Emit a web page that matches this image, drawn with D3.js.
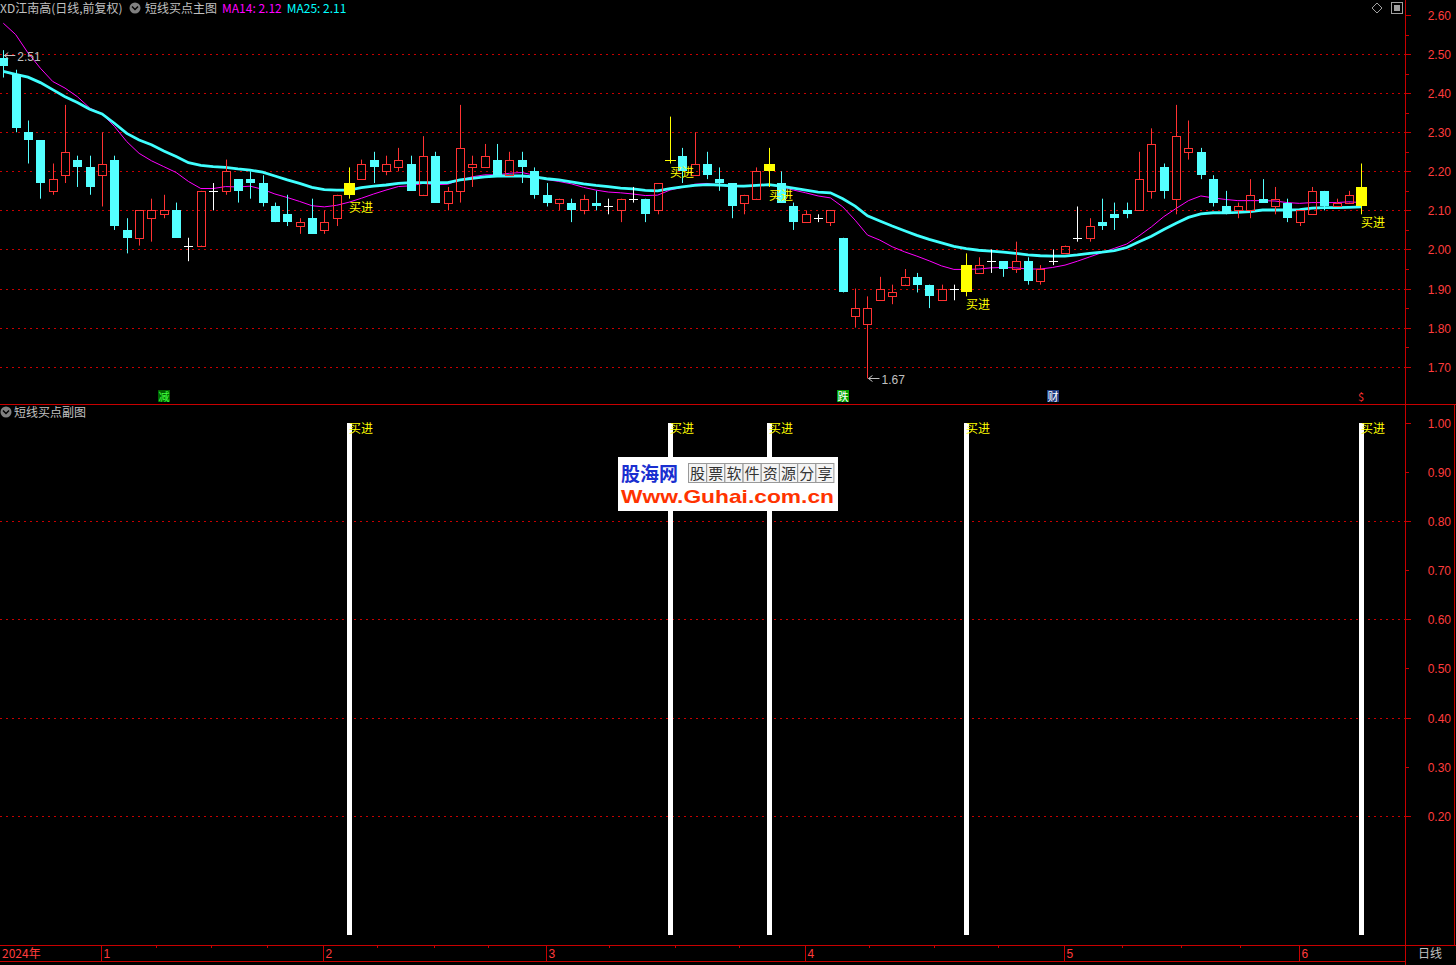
<!DOCTYPE html>
<html><head><meta charset="utf-8">
<script src="https://cdn.jsdelivr.net/npm/d3@7"></script>
<style>
html,body{margin:0;padding:0;background:#000;overflow:hidden}
svg{display:block}
text{font-family:"Liberation Sans",Arial,"Noto Sans CJK SC",sans-serif;}
.cjk{font-family:"Noto Sans CJK SC","Liberation Sans",sans-serif;}
</style></head><body>
<svg id="c" width="1456" height="965"></svg>
<script>
// ---------------- data ----------------
const openP  = [2.49,2.45,2.30,2.28,2.15,2.19,2.23,2.21,2.19,2.23,2.05,2.03,2.08,2.09,2.10,2.01,2.01,2.15,2.15,2.18,
                2.18,2.17,2.11,2.09,2.06,2.08,2.05,2.08,2.14,2.18,2.23,2.20,2.21,2.22,2.14,2.24,2.12,2.15,2.21,2.21,
                2.23,2.19,2.23,2.20,2.14,2.12,2.12,2.10,2.12,2.11,2.10,2.13,2.13,2.10,2.23,2.24,2.19,2.22,2.18,2.17,
                2.12,2.13,2.20,2.17,2.11,2.07,2.08,2.07,2.03,1.83,1.81,1.87,1.88,1.91,1.93,1.91,1.87,1.90,1.89,1.94,
                1.97,1.97,1.95,1.97,1.92,1.97,1.99,2.03,2.03,2.07,2.09,2.10,2.10,2.15,2.21,2.13,2.25,2.25,2.18,2.11,
                2.10,2.10,2.13,2.11,2.12,2.07,2.09,2.15,2.11,2.12,2.11];
const highP  = [2.51,2.46,2.33,2.28,2.22,2.37,2.24,2.24,2.30,2.24,2.08,2.10,2.13,2.14,2.12,2.03,2.15,2.17,2.23,2.18,
                2.20,2.19,2.12,2.14,2.08,2.13,2.10,2.14,2.21,2.23,2.25,2.24,2.26,2.24,2.29,2.25,2.16,2.37,2.24,2.27,
                2.27,2.25,2.25,2.21,2.17,2.13,2.13,2.14,2.15,2.13,2.13,2.16,2.13,2.17,2.34,2.26,2.30,2.25,2.21,2.17,
                2.14,2.21,2.26,2.20,2.12,2.10,2.09,2.10,2.03,1.90,1.88,1.93,1.91,1.95,1.94,1.91,1.91,1.91,1.99,1.98,
                2.00,1.97,2.02,1.98,1.96,2.00,2.01,2.11,2.08,2.13,2.12,2.12,2.25,2.31,2.22,2.37,2.33,2.26,2.19,2.15,
                2.12,2.18,2.18,2.16,2.13,2.10,2.16,2.15,2.13,2.15,2.22];
const lowP   = [2.44,2.30,2.22,2.13,2.14,2.17,2.16,2.14,2.11,2.05,1.99,2.01,2.02,2.08,2.03,1.97,2.01,2.10,2.14,2.12,
                2.13,2.11,2.07,2.06,2.04,2.04,2.04,2.06,2.13,2.18,2.17,2.19,2.20,2.15,2.14,2.12,2.10,2.12,2.16,2.21,
                2.19,2.19,2.17,2.13,2.11,2.10,2.07,2.09,2.10,2.09,2.07,2.12,2.07,2.09,2.22,2.17,2.19,2.18,2.15,2.08,
                2.09,2.13,2.16,2.12,2.05,2.07,2.07,2.06,1.89,1.80,1.67,1.87,1.86,1.91,1.89,1.85,1.87,1.87,1.88,1.94,
                1.94,1.93,1.94,1.91,1.91,1.96,1.99,2.02,2.02,2.05,2.05,2.08,2.10,2.13,2.13,2.09,2.23,2.18,2.11,2.09,
                2.08,2.08,2.12,2.09,2.07,2.06,2.09,2.10,2.11,2.12,2.09];
const closeP = [2.47,2.31,2.28,2.17,2.18,2.25,2.21,2.16,2.22,2.06,2.03,2.10,2.10,2.10,2.03,2.01,2.15,2.15,2.20,2.15,
                2.17,2.12,2.07,2.07,2.07,2.04,2.07,2.14,2.17,2.22,2.21,2.22,2.23,2.15,2.24,2.12,2.15,2.26,2.22,2.24,
                2.19,2.23,2.21,2.14,2.12,2.13,2.10,2.13,2.11,2.11,2.13,2.13,2.09,2.17,2.23,2.20,2.22,2.19,2.17,2.11,
                2.14,2.20,2.22,2.12,2.07,2.09,2.08,2.10,1.89,1.85,1.85,1.90,1.89,1.93,1.91,1.88,1.90,1.90,1.96,1.96,
                1.97,1.95,1.97,1.92,1.95,1.97,2.01,2.03,2.06,2.06,2.08,2.09,2.18,2.27,2.15,2.29,2.26,2.19,2.12,2.09,
                2.11,2.14,2.12,2.13,2.08,2.10,2.15,2.11,2.12,2.14,2.16];
const ma14 = [2.579,2.550,2.503,2.464,2.430,2.413,2.391,2.362,2.347,2.315,2.276,2.246,2.227,2.212,2.197,2.174,2.156,2.156,2.161,2.160,
              2.162,2.154,2.142,2.133,2.123,2.112,2.109,2.113,2.121,2.131,2.142,2.152,2.161,2.163,2.169,2.166,2.167,2.178,2.186,2.191,
              2.191,2.195,2.197,2.190,2.179,2.174,2.168,2.159,2.152,2.147,2.145,2.142,2.138,2.139,2.152,2.159,2.167,2.169,2.165,2.161,
              2.161,2.164,2.165,2.161,2.152,2.145,2.137,2.132,2.109,2.075,2.037,2.024,2.007,1.994,1.983,1.971,1.958,1.949,1.949,1.950,
              1.953,1.954,1.953,1.950,1.950,1.954,1.960,1.970,1.981,1.992,2.003,2.014,2.035,2.058,2.084,2.105,2.125,2.137,2.132,2.128,
              2.125,2.125,2.125,2.124,2.120,2.118,2.120,2.120,2.120,2.122,2.120];
const ma25 = [2.456,2.448,2.441,2.427,2.409,2.391,2.376,2.359,2.347,2.323,2.297,2.280,2.268,2.252,2.238,2.222,2.215,2.212,2.210,2.206,
              2.203,2.198,2.188,2.178,2.169,2.159,2.153,2.152,2.152,2.158,2.162,2.165,2.169,2.171,2.171,2.171,2.171,2.178,2.182,2.186,
              2.188,2.188,2.188,2.186,2.181,2.178,2.173,2.168,2.164,2.161,2.157,2.155,2.151,2.150,2.156,2.160,2.164,2.166,2.165,2.163,
              2.162,2.164,2.166,2.162,2.157,2.152,2.147,2.145,2.130,2.111,2.086,2.073,2.060,2.048,2.036,2.026,2.017,2.008,2.002,1.998,
              1.996,1.993,1.990,1.986,1.984,1.983,1.983,1.986,1.990,1.993,1.997,2.005,2.020,2.034,2.051,2.067,2.082,2.091,2.094,2.094,
              2.095,2.097,2.101,2.101,2.101,2.102,2.106,2.107,2.107,2.108,2.109];
const buySignals = [28, 54, 62, 78, 110];
const buyValue = 1;
const priceTicks = [2.60,2.50,2.40,2.30,2.20,2.10,2.00,1.90,1.80,1.70];
const priceGrid = [2.50,2.40,2.30,2.20,2.10,2.00,1.90,1.80,1.70];
const subTicks = [1.00,0.90,0.80,0.70,0.60,0.50,0.40,0.30,0.20];
const subGrid = [0.80,0.60,0.40,0.20];
const monthIdx = [8,26,44,65,86,105];
const monthLabels = ["1","2","3","4","5","6"];
const weekTickIdx = [12.4,16.8,21.4,30.3,34.9,39.3,49.1,54.4,59.6,70.1,75.4,80.6,90.6,95.4,100.2];
const yearLabel = "2024年";
const highMark = {idx:0, value:2.51};
const lowMark = {idx:70, value:1.67};
const eventMarks = [{idx:13, t:"减", bg:"#006400", fg:"#40ff40"},{idx:68, t:"跌", bg:"#00a000", fg:"#ffffff"},
                    {idx:85, t:"财", bg:"#203c80", fg:"#ffffff"},{idx:110, t:"$", bg:"#000000", fg:"#ff3030"}];

// ---------------- drawing ----------------
const svg = d3.select("#c");
const RED="#ff3232", CYAN="#54ffff", AXR="#c80000", LBL="#ff3c3c", GRAY="#c0c0c0";
const plotR = 1405;
const x = d3.scaleLinear().domain([0,110]).range([3.3,1361.3]);
const yP = d3.scaleLinear().domain([1.6046,2.6384]).range([404,0]);
const yS = d3.scaleLinear().domain([-0.043,1.0367]).range([935,405]);
const px = v => Math.round(v)+0.5;

svg.append("rect").attr("width",1456).attr("height",965).attr("fill","#000");

// grid
const g = svg.append("g");
g.selectAll(".gp").data(priceGrid).enter().append("line")
  .attr("x1",0).attr("x2",plotR).attr("y1",d=>px(yP(d))).attr("y2",d=>px(yP(d)))
  .attr("stroke",AXR).attr("stroke-dasharray","2,4").attr("stroke-width",1);
g.selectAll(".gs").data(subGrid).enter().append("line")
  .attr("x1",0).attr("x2",plotR).attr("y1",d=>px(yS(d))).attr("y2",d=>px(yS(d)))
  .attr("stroke",AXR).attr("stroke-dasharray","2,4").attr("stroke-width",1);

// MA lines
const lineGen = d3.line().x((d,i)=>x(i)).y(d=>yP(d));
svg.append("path").datum(ma14).attr("d",lineGen).attr("fill","none").attr("stroke","#ff00ff").attr("stroke-width",1);
svg.append("path").datum(ma25).attr("d",lineGen).attr("fill","none").attr("stroke","#40ffff").attr("stroke-width",2.8);

// candles
const cg = svg.append("g");
const idxs = d3.range(openP.length);
idxs.forEach(i=>{
  const cx = Math.round(x(i));
  const o=openP[i], c=closeP[i], h=highP[i], l=lowP[i];
  const sig = buySignals.includes(i);
  if (o===c) {
    const col = sig ? "#ffff00" : "#ffffff";
    const hw = sig ? 5.5 : 4.5;
    cg.append("line").attr("x1",cx-hw+0.5).attr("x2",cx+hw+0.5).attr("y1",px(yP(o))).attr("y2",px(yP(o))).attr("stroke",col);
    cg.append("line").attr("x1",cx+0.5).attr("x2",cx+0.5).attr("y1",yP(h)).attr("y2",yP(l)).attr("stroke",col);
  } else if (sig) {
    cg.append("line").attr("x1",cx+0.5).attr("x2",cx+0.5).attr("y1",yP(h)).attr("y2",yP(l)).attr("stroke","#ffff00");
    const t=Math.round(yP(Math.max(o,c))), b=Math.round(yP(Math.min(o,c)));
    cg.append("rect").attr("x",cx-5).attr("width",11).attr("y",t).attr("height",Math.max(1,b-t)).attr("fill","#ffff00");
  } else if (c>o) {
    const t=Math.round(yP(c)), b=Math.round(yP(o));
    cg.append("line").attr("x1",cx+0.5).attr("x2",cx+0.5).attr("y1",yP(h)).attr("y2",t).attr("stroke",RED);
    cg.append("line").attr("x1",cx+0.5).attr("x2",cx+0.5).attr("y1",b+1).attr("y2",yP(l)).attr("stroke",RED);
    cg.append("rect").attr("x",cx-3.5).attr("width",8).attr("y",t+0.5).attr("height",Math.max(1,b-t)).attr("fill","none").attr("stroke",RED);
  } else {
    cg.append("line").attr("x1",cx+0.5).attr("x2",cx+0.5).attr("y1",yP(h)).attr("y2",yP(l)).attr("stroke",CYAN);
    const t=Math.round(yP(o)), b=Math.round(yP(c));
    cg.append("rect").attr("x",cx-4).attr("width",9).attr("y",t).attr("height",Math.max(1,b-t)).attr("fill",CYAN);
  }
});

// buy labels on main panel
svg.selectAll(".bl").data(buySignals).enter().append("text").attr("class","cjk")
  .attr("x",d=>Math.round(x(d))).attr("y",d=>yP(lowP[d])+13)
  .attr("font-size",12).attr("fill","#ffff00").text("买进");

// high / low annotations
function mark(m, y){
  const cx = x(m.idx);
  svg.append("line").attr("x1",cx+1).attr("x2",cx+12).attr("y1",y).attr("y2",y).attr("stroke",GRAY);
  svg.append("path").attr("d",`M${cx+1},${y} l4,-3 M${cx+1},${y} l4,3`).attr("stroke",GRAY).attr("fill","none");
  svg.append("text").attr("x",cx+14).attr("y",y+5).attr("font-size",12).attr("fill",GRAY).text(m.value.toFixed(2));
}
mark(highMark, 55.5);
mark(lowMark, px(yP(lowMark.value)));

// event marks
eventMarks.forEach(m=>{
  const cx=Math.round(x(m.idx));
  svg.append("rect").attr("x",cx-6).attr("y",390).attr("width",12).attr("height",12).attr("fill",m.bg);
  svg.append("text").attr("class","cjk").attr("x",cx).attr("y",400.5).attr("text-anchor","middle")
    .attr("font-size",11).attr("fill",m.fg).text(m.t);
});

// sub panel bars
svg.selectAll(".sb").data(buySignals).enter().append("rect")
  .attr("x",d=>Math.round(x(d))-2).attr("width",5)
  .attr("y",yS(buyValue)).attr("height",yS(-0.043)-yS(buyValue)).attr("fill","#ffffff");
svg.selectAll(".sl").data(buySignals).enter().append("text").attr("class","cjk")
  .attr("x",d=>Math.round(x(d))).attr("y",yS(buyValue)+10)
  .attr("font-size",12).attr("fill","#ffff00").text("买进");

// frame lines
svg.append("line").attr("x1",0).attr("x2",1456).attr("y1",404.5).attr("y2",404.5).attr("stroke",AXR);
svg.append("line").attr("x1",px(plotR)).attr("x2",px(plotR)).attr("y1",0).attr("y2",965).attr("stroke",AXR);
svg.append("line").attr("x1",1454.5).attr("x2",1454.5).attr("y1",405).attr("y2",945).attr("stroke",AXR);
svg.append("line").attr("x1",0).attr("x2",1456).attr("y1",945.5).attr("y2",945.5).attr("stroke",AXR);
svg.append("line").attr("x1",0).attr("x2",1405).attr("y1",961.5).attr("y2",961.5).attr("stroke",AXR);

// right price axis
const ax = svg.append("g");
priceTicks.forEach(v=>{
  const y=px(yP(v));
  ax.append("line").attr("x1",1406).attr("x2",1411).attr("y1",y).attr("y2",y).attr("stroke",AXR);
  ax.append("text").attr("x",1451).attr("y",y+4.5).attr("text-anchor","end").attr("font-size",12).attr("fill",LBL).text(v.toFixed(2));
});
d3.range(0,9).forEach(k=>{
  const v = priceTicks[k]-0.05; const y=px(yP(v));
  ax.append("line").attr("x1",1406).attr("x2",1409).attr("y1",y).attr("y2",y).attr("stroke",AXR);
});
subTicks.forEach((v,k)=>{
  const y=px(yS(v));
  ax.append("line").attr("x1",1406).attr("x2",k%2===0?1411:1409).attr("y1",y).attr("y2",y).attr("stroke",AXR);
  ax.append("text").attr("x",1451).attr("y",y+4.5).attr("text-anchor","end").attr("font-size",12).attr("fill",LBL).text(v.toFixed(2));
});

// bottom date axis
monthIdx.forEach((d,k)=>{
  const xx = px(x(d)-1);
  svg.append("line").attr("x1",xx).attr("x2",xx).attr("y1",945).attr("y2",961).attr("stroke",AXR);
  svg.append("text").attr("x",xx+2).attr("y",958).attr("font-size",12).attr("fill",LBL).text(monthLabels[k]);
});
weekTickIdx.forEach(d=>{
  const xx = px(x(d));
  svg.append("line").attr("x1",xx).attr("x2",xx).attr("y1",945).attr("y2",948).attr("stroke",AXR);
});
svg.append("text").attr("class","cjk").attr("x",2).attr("y",958).attr("font-size",12).attr("fill",LBL).text(yearLabel);
svg.append("text").attr("class","cjk").attr("x",1418).attr("y",958).attr("font-size",12).attr("fill",GRAY).text("日线");

// header
function icon(cx,cy){
  svg.append("circle").attr("cx",cx).attr("cy",cy).attr("r",5.5).attr("fill","#808080");
  svg.append("path").attr("d",`M${cx-3},${cy-1.5} L${cx},${cy+1.5} L${cx+3},${cy-1.5}`).attr("stroke","#000").attr("stroke-width",1.5).attr("fill","none");
}
const hdr = svg.append("text").attr("class","cjk").attr("x",0).attr("y",13).attr("font-size",12);
hdr.append("tspan").attr("fill",GRAY).text("XD江南高(日线,前复权)");
icon(135,8);
const hdr2 = svg.append("text").attr("class","cjk").attr("x",145).attr("y",13).attr("font-size",12);
hdr2.append("tspan").attr("fill",GRAY).text("短线买点主图");
hdr2.append("tspan").attr("fill","#ff00ff").attr("dx",5).text("MA14: "+ma14[ma14.length-1].toFixed(2));
hdr2.append("tspan").attr("fill","#00ffff").attr("dx",5).text("MA25: "+ma25[ma25.length-1].toFixed(2));
icon(6,412);
svg.append("text").attr("class","cjk").attr("x",14).attr("y",417).attr("font-size",12).attr("fill",GRAY).text("短线买点副图");
svg.append("path").attr("d","M1377,3 L1382,8 L1377,13 L1372,8 Z").attr("fill","none").attr("stroke","#a0a0a0");
svg.append("rect").attr("x",1391.5).attr("y",2.5).attr("width",11).attr("height",11).attr("fill","none").attr("stroke","#a0a0a0");
svg.append("rect").attr("x",1394).attr("y",5).attr("width",6).attr("height",6).attr("fill","#a0a0a0");

// watermark
const wm = svg.append("g");
wm.append("rect").attr("x",618).attr("y",457).attr("width",220).attr("height",54).attr("fill","#ffffff");
wm.append("text").attr("class","cjk").attr("x",621).attr("y",481).attr("font-size",19).attr("font-weight","bold").attr("fill","#1a2fd0").text("股海网");
const cells = "股票软件资源分享".split("");
cells.forEach((ch,k)=>{
  wm.append("rect").attr("x",688.5+k*18.2).attr("y",463.5).attr("width",18).attr("height",19).attr("fill","#f4f4f4").attr("stroke","#999");
  wm.append("text").attr("class","cjk").attr("x",697.5+k*18.2).attr("y",479).attr("text-anchor","middle").attr("font-size",15).attr("fill","#333").text(ch);
});
wm.append("text").attr("x",621).attr("y",503).attr("font-family","DejaVu Sans").attr("font-size",19).attr("font-weight","bold")
  .attr("textLength",213).attr("lengthAdjust","spacingAndGlyphs").attr("fill","#ff3300").text("Www.Guhai.com.cn");
</script>
</body></html>
